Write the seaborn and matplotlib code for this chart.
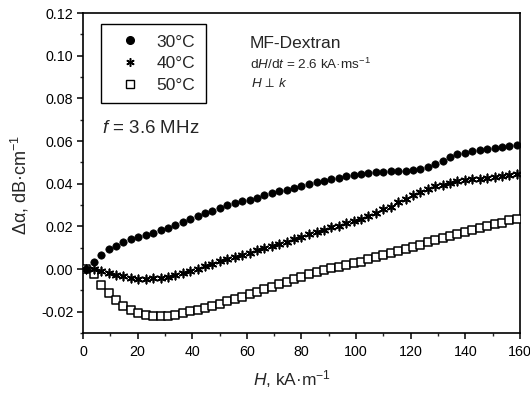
import matplotlib
matplotlib.use('Agg')
import matplotlib.pyplot as plt
import seaborn as sns
from matplotlib.lines import Line2D
from matplotlib.ticker import MultipleLocator, FuncFormatter

# magnetic field strength, kA/m
H = [1.2, 3.9, 6.6, 9.4, 12.1, 14.8, 17.5, 20.2, 22.9, 25.7,
     28.4, 31.1, 33.8, 36.5, 39.3, 42.0, 44.7, 47.4, 50.1, 52.8,
     55.6, 58.3, 61.0, 63.7, 66.4, 69.2, 71.9, 74.6, 77.3, 80.0,
     82.7, 85.5, 88.2, 90.9, 93.6, 96.3, 99.1, 101.8, 104.5, 107.2,
     109.9, 112.6, 115.4, 118.1, 120.8, 123.5, 126.2, 129.0, 131.7, 134.4,
     137.1, 139.8, 142.5, 145.3, 148.0, 150.7, 153.4, 156.1, 158.9]

# attenuation change, dB/cm
alpha_30 = [0.0000, 0.0035, 0.0065, 0.0094, 0.0110, 0.0127, 0.0140, 0.0152, 0.0160, 0.0170,
            0.0181, 0.0191, 0.0207, 0.0222, 0.0235, 0.0250, 0.0262, 0.0274, 0.0286, 0.0298,
            0.0308, 0.0317, 0.0325, 0.0335, 0.0346, 0.0355, 0.0364, 0.0372, 0.0380, 0.0387,
            0.0397, 0.0406, 0.0415, 0.0423, 0.0429, 0.0434, 0.0439, 0.0444, 0.0448, 0.0453,
            0.0456, 0.0459, 0.0460, 0.0460, 0.0463, 0.0467, 0.0478, 0.0492, 0.0507, 0.0526,
            0.0540, 0.0546, 0.0552, 0.0556, 0.0562, 0.0568, 0.0572, 0.0577, 0.0583]

alpha_40 = [0.0000, 0.0000, -0.0008, -0.0017, -0.0026, -0.0034, -0.0041, -0.0045, -0.0046, -0.0044,
            -0.0040, -0.0035, -0.0027, -0.0019, -0.0010, 0.0001, 0.0012, 0.0025, 0.0037, 0.0047,
            0.0058, 0.0066, 0.0076, 0.0087, 0.0099, 0.0108, 0.0118, 0.0129, 0.0140, 0.0151,
            0.0164, 0.0175, 0.0185, 0.0195, 0.0204, 0.0215, 0.0225, 0.0236, 0.0251, 0.0265,
            0.0280, 0.0293, 0.0314, 0.0329, 0.0346, 0.0361, 0.0374, 0.0387, 0.0396, 0.0404,
            0.0411, 0.0416, 0.0421, 0.0424, 0.0427, 0.0431, 0.0435, 0.0439, 0.0444]

alpha_50 = [0.0000, -0.0025, -0.0074, -0.0112, -0.0146, -0.0171, -0.0191, -0.0206, -0.0215, -0.0220,
            -0.0221, -0.0220, -0.0214, -0.0207, -0.0199, -0.0191, -0.0181, -0.0173, -0.0162, -0.0152,
            -0.0141, -0.0129, -0.0118, -0.0106, -0.0095, -0.0083, -0.0071, -0.0059, -0.0047, -0.0036,
            -0.0023, -0.0014, -0.0006, 0.0003, 0.0011, 0.0019, 0.0027, 0.0035, 0.0045, 0.0057,
            0.0066, 0.0073, 0.0084, 0.0095, 0.0105, 0.0115, 0.0125, 0.0136, 0.0146, 0.0157,
            0.0165, 0.0174, 0.0185, 0.0194, 0.0200, 0.0209, 0.0218, 0.0229, 0.0234]

temps = ['30°C', '40°C', '50°C']

sns.set_style('ticks')
plt.rcParams['font.family'] = ['Liberation Sans', 'DejaVu Sans']
plt.rcParams['mathtext.fontset'] = 'custom'
plt.rcParams['mathtext.rm'] = 'Liberation Sans'
plt.rcParams['mathtext.it'] = 'Liberation Sans:italic'
plt.rcParams['mathtext.bf'] = 'Liberation Sans:bold'
plt.rcParams['mathtext.fallback'] = 'stixsans'

fig = plt.figure(figsize=(5.3, 3.96), dpi=100)
ax = fig.add_axes([0.1566, 0.159, 0.8245, 0.808])

sns.scatterplot(x=H, y=alpha_50, marker='s', s=28, facecolor='white',
                edgecolor='black', linewidth=1.1, ax=ax, zorder=3)
sns.scatterplot(x=H, y=alpha_40, marker=(6, 2, 0), s=36, color='black',
                linewidth=1.2, ax=ax, zorder=4)
sns.scatterplot(x=H, y=alpha_30, marker='o', s=28, color='black',
                edgecolor='black', linewidth=0.5, ax=ax, zorder=5)

ax.set_xlim(0, 160)
ax.set_ylim(-0.03, 0.12)
ax.xaxis.set_major_locator(MultipleLocator(20))
ax.xaxis.set_minor_locator(MultipleLocator(10))
ax.yaxis.set_major_locator(MultipleLocator(0.02))
ax.yaxis.set_minor_locator(MultipleLocator(0.01))
ax.yaxis.set_major_formatter(FuncFormatter(lambda v, _: f'{v:.2f}'))
ax.tick_params(which='major', direction='out', length=4.5, width=1.1,
               labelsize=10.3, colors='black', top=False, right=False)
ax.tick_params(which='minor', direction='out', length=2.5, width=1.0,
               top=False, right=False)
ax.tick_params(axis='y', which='major', pad=2.5)
ax.tick_params(axis='x', which='major', pad=4)
for sp in ax.spines.values():
    sp.set_visible(True)
    sp.set_linewidth(1.2)
    sp.set_color('black')

ax.set_xlabel('$\\it{H}$, kA·m$^{-1}$', fontsize=12.5)
ax.set_ylabel('Δα, dB·cm$^{-1}$', fontsize=13)
ax.xaxis.set_label_coords(0.478, -0.11)
ax.yaxis.set_label_coords(-0.119, 0.4625)

handles = [
    Line2D([], [], ls='', marker='o', color='black', markersize=5.5),
    Line2D([], [], ls='', marker=(6, 2, 0), color='black', markersize=6, markeredgewidth=1.1),
    Line2D([], [], ls='', marker='s', markerfacecolor='white', markeredgecolor='black',
           markersize=5.5, markeredgewidth=1.0),
]
leg = ax.legend(handles, temps, loc='upper left', bbox_to_anchor=(0.0405, 0.966),
                borderaxespad=0, fontsize=12.5, frameon=True, fancybox=False,
                framealpha=1, edgecolor='black', handlelength=2.14,
                handletextpad=0.49, labelspacing=0.37, borderpad=0.6)
leg.get_frame().set_linewidth(1.0)

ax.text(0.043, 0.64, '$\\it{f}$ = 3.6 MHz', transform=ax.transAxes,
        fontsize=13.5, va='center', ha='left')
ax.text(0.382, 0.906, 'MF-Dextran', transform=ax.transAxes,
        fontsize=12.5, va='center', ha='left')
ax.text(0.382, 0.841, 'd$\\it{H}$/d$\\it{t}$ = 2.6 kA·ms$^{-1}$', transform=ax.transAxes,
        fontsize=9.7, va='center', ha='left')
ax.text(0.385, 0.781, '$\\it{H}\\,\\perp\\,\\it{k}$', transform=ax.transAxes,
        fontsize=9.7, va='center', ha='left')

fig.savefig('out.png', dpi=100)
